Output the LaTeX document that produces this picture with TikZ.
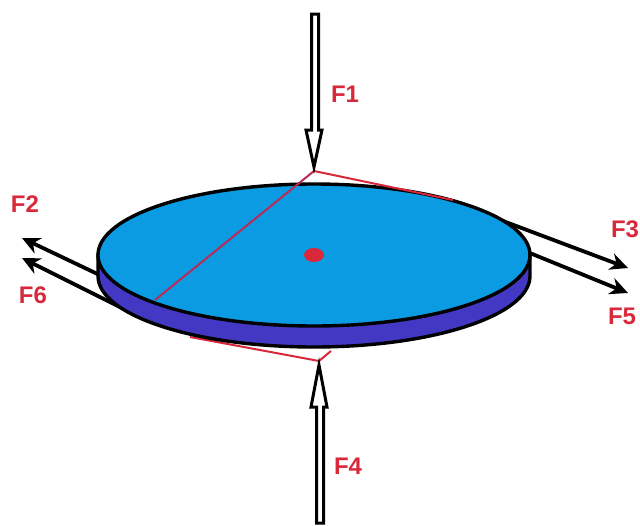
\documentclass[tikz,border=0pt]{standalone}
\usepackage{fontspec}
\setmainfont{Liberation Sans}
\usetikzlibrary{arrows.meta,calc}
\definecolor{disctop}{HTML}{0A9BE2}
\definecolor{discside}{HTML}{4238C4}
\definecolor{loadred}{HTML}{D8283A}
\begin{document}
\begin{tikzpicture}[
  x=1pt, y=-1pt,
  every node/.style={inner sep=0pt, outer sep=0pt},
  forcelabel/.style={font=\bfseries\fontsize{24}{24}\selectfont, text=loadred},
  pull/.style={line width=3.8pt, -{Stealth[length=18pt, width=17pt]}},
  planeline/.style={loadred, line width=2pt, line join=round},
  hollow/.style={draw=black, fill=white, line width=3pt, line join=miter}
]
\useasboundingbox (0,0) rectangle (640,525);

\def\Rx{216}
\def\Ry{71}
\coordinate (C) at (314,255);
\coordinate (D) at (314,276);

% Corners of the loaded plane.
\coordinate (top) at (314,171);
\coordinate (rim) at (155,300);
\coordinate (back) at (453,200);
\coordinate (low) at (319,361);
\coordinate (lowleft) at (190,337);
\coordinate (lowright) at (331,351);

% Pulls on the left and right go behind the disc.
\draw[pull] (108,279) -- (22,238);
\draw[pull] (124,309) -- (22,258);
\draw[pull] (495,218) -- (628,268);
\draw[pull] (520,249) -- (628,293);

% Part of the plane under the disc
\draw[planeline] (lowleft) -- (low) -- (lowright);

% Disc: rim first, then the face.
\fill[discside, draw=black, line width=3.4pt]
  ($(C)+(-\Rx,0)$) -- ($(D)+(-\Rx,0)$) arc[start angle=180, end angle=0, x radius=\Rx, y radius=\Ry]
  -- ($(C)+(\Rx,0)$) -- cycle;
\draw[draw=black, fill=disctop, line width=3.4pt] (C) ellipse[x radius=\Rx, y radius=\Ry];

% Part of the plane over the disc
\draw[planeline, draw=loadred!80!discside] (rim) -- (top);
\draw[planeline] (top) -- (back);

\fill[loadred] (C) ellipse[x radius=10, y radius=7];

% Hollow arrows press on the faces.
\draw[hollow] (311.5,14) -- (318.5,14) -- (318.5,130) -- (322,130) -- (314,167) -- (306,130) -- (311.5,130) -- cycle;
\draw[hollow] (316.5,523) -- (323.5,523) -- (323.5,407) -- (327,407) -- (319,365) -- (311,407) -- (316.5,407) -- cycle;

\node[forcelabel] (f1) at (345,94) {F1};
\node[forcelabel] (f2) at (25,204) {F2};
\node[forcelabel] (f3) at (625,229) {F3};
\node[forcelabel] (f4) at (348,466) {F4};
\node[forcelabel] (f5) at (622,316) {F5};
\node[forcelabel] (f6) at (33,295) {F6};

\end{tikzpicture}
\end{document}
